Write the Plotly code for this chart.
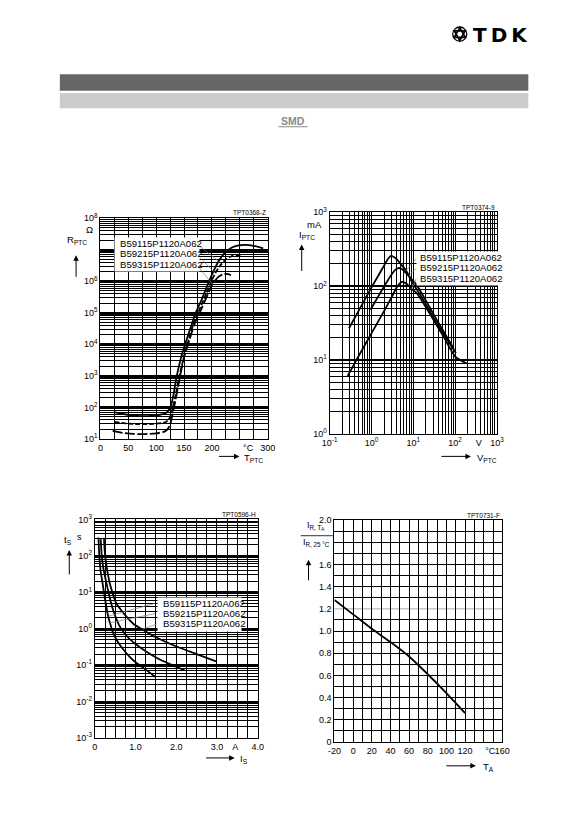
import math

import plotly.graph_objects as go

W, H = 583, 826
FONT = "Liberation Sans, Arial, sans-serif"

part_names = ["B59115P1120A062", "B59215P1120A062", "B59315P1120A062"]

# chart 1: resistance vs temperature
rt_temp_115 = [25, 40, 55, 75, 95, 110, 118, 123, 127, 131, 137, 145, 152, 162, 171, 183, 195, 205, 212, 222, 235, 248, 260, 275, 292]
rt_res_115 = [71, 62, 56, 53, 55, 60, 68, 85, 120, 250, 1000, 4000, 1.0e4, 3.5e4, 1e5, 3e5, 1e6, 2.5e6, 4.3e6,
              7.5e6, 1.15e7, 1.38e7, 1.43e7, 1.33e7, 1.1e7]
rt_temp_215 = [25, 45, 70, 95, 110, 117, 122, 126, 130, 134, 140, 148, 156, 166, 175, 187, 199, 206, 215, 225, 235, 245, 253]
rt_res_215 = [35, 31, 29.5, 30, 32, 34, 40, 55, 100, 200, 700, 3000, 1e4, 4e4, 1e5, 3e5, 1e6, 1.8e6, 3.2e6, 5e6,
              6.2e6, 6.7e6, 6.5e6]
rt_temp_315 = [22, 40, 60, 80, 100, 112, 118, 123, 127, 131, 135, 142, 150, 158, 168, 178, 190, 201, 212, 222, 229, 234]
rt_res_315 = [18, 15.5, 14.4, 14.3, 15, 16.5, 18.5, 24, 38, 80, 180, 800, 4000, 1.1e4, 4e4, 1e5, 3e5, 8e5, 1.4e6,
              1.7e6, 1.68e6, 1.55e6]

# chart 2: current vs voltage
iv_volt_115 = [0.29, 0.5, 1, 1.5, 2, 2.5, 2.86, 3.3, 4, 5, 6.7, 8.5, 11.9, 20, 40, 93]
iv_curr_115 = [27, 47, 96, 143, 190, 235, 256, 252, 232, 200, 163, 130, 105, 64, 32, 14.3]
iv_volt_215 = [0.95, 1.5, 2, 3, 3.7, 4.4, 5.2, 6.2, 7.7, 9.5, 11.9, 20, 40, 105]
iv_curr_215 = [48, 75, 99, 143, 166, 176, 172, 158, 138, 112, 92, 57, 29, 12.5]
iv_volt_315 = [0.27, 0.5, 1, 2, 3, 4, 4.8, 5.5, 6.5, 7.8, 9.1, 11.9, 20, 50, 101.6, 190]
iv_curr_315 = [6.1, 11.5, 23, 46, 70, 96, 110, 114, 110, 101, 92, 81.5, 52, 22, 11.1, 9.0]

# chart 3: switching time vs switching current
ts_curr_115 = [0.224, 0.25, 0.29, 0.368, 0.45, 0.526, 0.65, 0.765, 0.95, 1.164, 1.5, 1.96, 2.5, 2.98]
ts_time_115 = [288, 110, 50, 17.5, 8.5, 5.0, 3.2, 2.2, 1.35, 0.96, 0.58, 0.34, 0.2, 0.126]
ts_curr_215 = [0.143, 0.17, 0.21, 0.287, 0.36, 0.447, 0.607, 0.8, 1.0, 1.25, 1.56, 1.9, 2.2]
ts_time_215 = [288, 100, 45, 17.5, 7.5, 3.3, 1.18, 0.6, 0.38, 0.24, 0.149, 0.1, 0.072]
ts_curr_315 = [0.088, 0.11, 0.14, 0.19, 0.25, 0.327, 0.37, 0.447, 0.55, 0.686, 0.85, 1.0, 1.25, 1.48]
ts_time_315 = [320, 100, 40, 17.5, 6.5, 2.2, 1.45, 0.78, 0.46, 0.28, 0.17, 0.12, 0.075, 0.048]

# chart 4: derating
ta_temp = [-20, 0, 20, 40, 60, 80, 100, 120]
ta_ratio = [1.28, 1.15, 1.02, 0.90, 0.77, 0.61, 0.44, 0.26]


def fx(px):
    return px / W


def fy(py):
    return 1 - py / H


def decades(lo, hi):
    return [10.0 ** d for d in range(lo, hi + 1)]


def log_minor(lo, hi, digits=range(2, 10)):
    return [k * 10.0 ** d for d in range(lo, hi) for k in digits]


def sup(d):
    return f"10<sup>{d}</sup>"


def frame(**kw):
    base = dict(showline=True, mirror=True, linecolor="black", linewidth=1.3, ticks="",
                zeroline=False, tickangle=0, fixedrange=True, tickmode="array",
                tickfont=dict(family=FONT, size=9, color="black"))
    base.update(kw)
    return base


def grid(vals, width=0.8):
    return dict(tickmode="array", tickvals=vals, showgrid=True, gridcolor="black", gridwidth=width, ticks="")


fig = go.Figure()


def curve(x, y, xa, ya, dash="solid", width=1.8):
    fig.add_trace(go.Scatter(
        x=x, y=y, mode="lines", xaxis=xa, yaxis=ya, hoverinfo="skip", showlegend=False,
        line=dict(color="black", width=width, dash=dash, shape="spline", smoothing=0.6),
    ))


def leader(xa, ya, x_label, y_label, x_curve, y_curve):
    fig.add_trace(go.Scatter(
        x=[x_label, x_curve], y=[y_label, y_curve], mode="lines", xaxis=xa, yaxis=ya,
        hoverinfo="skip", showlegend=False, line=dict(color="#808080", width=0.7),
    ))


# chart 1
curve(rt_temp_115, rt_res_115, "x", "y")
curve(rt_temp_215, rt_res_215, "x", "y", dash="5px,2px")
curve(rt_temp_315, rt_res_315, "x", "y", dash="10px,2.5px")
leader("x", "y", 172, 1.57e7, 212, rt_res_115[rt_temp_115.index(212)])
leader("x", "y", 172, 7.4e6, 206, rt_res_215[rt_temp_215.index(206)])
leader("x", "y", 172, 3.47e6, 201, rt_res_315[rt_temp_315.index(201)])

# chart 2
curve(iv_volt_115, iv_curr_115, "x2", "y2")
curve(iv_volt_215, iv_curr_215, "x2", "y2")
curve(iv_volt_315, iv_curr_315, "x2", "y2")
leader("x2", "y2", 11.9, 238, 6.7, iv_curr_115[iv_volt_115.index(6.7)])
leader("x2", "y2", 11.9, 175, 7.7, iv_curr_215[iv_volt_215.index(7.7)])
leader("x2", "y2", 11.9, 127, 9.1, iv_curr_315[iv_volt_315.index(9.1)])

# chart 3
curve(ts_curr_115, ts_time_115, "x3", "y3")
curve(ts_curr_215, ts_time_215, "x3", "y3")
curve(ts_curr_315, ts_time_315, "x3", "y3")
leader("x3", "y3", 1.474, 4.95, 0.327, ts_time_315[ts_curr_315.index(0.327)])
leader("x3", "y3", 1.474, 2.58, 0.37, ts_time_315[ts_curr_315.index(0.37)])
leader("x3", "y3", 1.52, 1.34, 1.164, ts_time_115[ts_curr_115.index(1.164)])

# chart 4
curve(ta_temp, ta_ratio, "x4", "y4", width=1.8)

fig.update_layout(
    width=W, height=H, margin=dict(l=0, r=0, t=0, b=0),
    paper_bgcolor="white", plot_bgcolor="white", showlegend=False,
    font=dict(family=FONT, size=9, color="black"),
    xaxis=frame(domain=[fx(95), fx(267)], range=[0, 300], anchor="y", showgrid=False,
                tickvals=[0, 50, 100, 150, 200, 265, 300],
                ticktext=["0", "50", "100", "150", "200", "°C", "300"],
                minor=grid(list(range(0, 301, 25)))),
    yaxis=frame(domain=[fy(438.3), fy(214.3)], type="log", range=[1, 8], anchor="x",
                tickvals=decades(1, 8),
                ticktext=[sup(1), sup(2), sup(3), sup(4), sup(5), sup(6), "", sup(8)],
                showgrid=True, gridcolor="black", gridwidth=2,
                minor=grid(log_minor(1, 8))),
    xaxis2=frame(domain=[fx(330.7), fx(502.7)], type="log", range=[-1, 3], anchor="y2", showgrid=False,
                 tickvals=[0.1, 1, 10, 100, 367, 1000],
                 ticktext=[sup(-1), sup(0), sup(1), sup(2), "V", sup(3)],
                 minor=grid(log_minor(-1, 3, range(1, 10)) + [1000])),
    yaxis2=frame(domain=[fy(433.3), fy(208.3)], type="log", range=[0, 3], anchor="x2",
                 tickvals=decades(0, 3), ticktext=[sup(0), sup(1), sup(2), sup(3)],
                 showgrid=True, gridcolor="black", gridwidth=1.6,
                 minor=grid(log_minor(0, 3))),
    xaxis3=frame(domain=[fx(89.3), fx(256.7)], range=[0, 4], anchor="y3", showgrid=False,
                 tickvals=[0, 1, 2, 3, 3.45, 4], ticktext=["0", "1.0", "2.0", "3.0", "A", "4.0"],
                 minor=grid([i * 0.25 for i in range(17)])),
    yaxis3=frame(domain=[fy(741.7), fy(520)], type="log", range=[-3, 3], anchor="x3",
                 tickvals=decades(-3, 3), ticktext=[sup(d) for d in range(-3, 4)],
                 showgrid=True, gridcolor="black", gridwidth=2.2,
                 minor=grid(log_minor(-3, 3))),
    xaxis4=frame(domain=[fx(335.7), fx(508.3)], range=[-20, 160], anchor="y4", showgrid=False,
                 tickvals=[-20, 0, 20, 40, 60, 80, 100, 120, 147, 160],
                 ticktext=["-20", "0", "20", "40", "60", "80", "100", "120", "°C", "160"],
                 minor=grid(list(range(-20, 161, 10)), 1)),
    yaxis4=frame(domain=[fy(745.7), fy(520.7)], range=[0, 2], anchor="x4", showgrid=False,
                 tickvals=[0, 0.2, 0.4, 0.6, 0.8, 1.0, 1.2, 1.4, 1.6, 2.0],
                 ticktext=["0", "0.2", "0.4", "0.6", "0.8", "1.0", "1.2", "1.4", "1.6", "2.0"],
                 minor=grid([round(i * 0.1, 1) for i in range(21) if i != 12], 1)),
)

# lighter line at 1.2 in the derating chart
fig.add_shape(type="line", xref="x4 domain", x0=0, x1=1, yref="y4", y0=1.2, y1=1.2,
              line=dict(color="#9a9a9a", width=0.8), layer="below")

# header bars and logo
fig.add_shape(type="rect", xref="paper", yref="paper", x0=fx(53.3), x1=fx(535), y0=fy(85), y1=fy(68.3),
              fillcolor="#666666", line=dict(width=0))
fig.add_shape(type="rect", xref="paper", yref="paper", x0=fx(53.3), x1=fx(535), y0=fy(102.7), y1=fy(87.3),
              fillcolor="#cccccc", line=dict(width=0))
fig.add_shape(type="line", xref="paper", yref="paper", x0=fx(278), x1=fx(308), y0=fy(121.5), y1=fy(121.5),
              line=dict(color="#8a8a8a", width=1))

cx, cy, rad = 464.5, 27.5, 6.5
for angles in ((-90, 30, 150), (90, 210, 330)):
    pts = [(cx + rad * math.cos(math.radians(a)), cy + rad * math.sin(math.radians(a))) for a in angles]
    path = "M " + " L ".join(f"{fx(px):.5f},{fy(py):.5f}" for px, py in pts) + " Z"
    fig.add_shape(type="path", xref="paper", yref="paper", path=path, line=dict(color="black", width=1.7))
fig.add_shape(type="circle", xref="paper", yref="paper", x0=fx(cx - rad - 0.7), x1=fx(cx + rad + 0.7),
              y0=fy(cy + rad + 0.7), y1=fy(cy - rad - 0.7), line=dict(color="black", width=1.3))


def note(px, py, text, size=9.5, xanchor="center", color="black", family=FONT):
    fig.add_annotation(x=fx(px), y=fy(py), xref="paper", yref="paper", text=text, showarrow=False,
                       xanchor=xanchor, yanchor="middle", font=dict(family=family, size=size, color=color))


def blank_box(x0, y0, x1, y1):
    fig.add_annotation(x=fx(x0), y=fy(y0), xref="paper", yref="paper", text=" ", showarrow=False,
                       xanchor="left", yanchor="top", width=x1 - x0, height=y1 - y0, borderpad=0,
                       bgcolor="white", font=dict(size=2))


def arrow(px, py, ax, ay):
    fig.add_annotation(x=fx(px), y=fy(py), xref="paper", yref="paper", text="", showarrow=True,
                       ax=ax, ay=ay, arrowhead=2, arrowsize=1.1, arrowwidth=1, arrowcolor="black")


note(537, 28, "<b>T\u2009D\u2009K</b>", size=20, xanchor="right", family="DejaVu Sans, Liberation Sans, sans-serif")
note(293, 115.5, "<b>SMD</b>", size=10.5, color="#8a8a8a")

# chart ids
note(267, 209, "TPT0368-Z", size=6.5, xanchor="right")
note(502.7, 203, "TPT0374-9", size=6.5, xanchor="right")
note(256.7, 515, "TPT0596-H", size=6.5, xanchor="right")
note(508.3, 515.5, "TPT0731-F", size=6.5, xanchor="right")

# legends on white boxes
blank_box(109, 233.5, 193, 266.5)
blank_box(419.5, 248, 502, 281)
blank_box(153.5, 599, 236, 632)
for i, name in enumerate(part_names):
    note(113, 240 + 10.5 * i, name, size=9.6, xanchor="left")
    note(422, 254 + 10.6 * i, name, size=9.6, xanchor="left")
    note(157, 605 + 10.5 * i, name, size=9.6, xanchor="left")

# axis names, units and arrows
note(71, 236, "R<sub>PTC</sub>", size=9.5)
note(84, 226, "Ω", size=9.5)
arrow(70, 252, 0, 23)
note(241, 458, "T<sub>PTC</sub>", size=9.5, xanchor="left")
arrow(238, 456, -22, 0)

note(307, 231, "I<sub>PTC</sub>", size=9.5)
note(315, 221, "mA", size=9.5)
arrow(302, 241, 0, 28)
note(480, 458, "V<sub>PTC</sub>", size=9.5, xanchor="left")
arrow(476, 456, -31, 0)

note(62, 541, "t<sub>S</sub>", size=9.5)
note(74, 538, "s", size=9)
arrow(63, 551, 0, 26)
note(237, 763, "I<sub>S</sub>", size=9.5, xanchor="left")
arrow(233, 762, -30, 0)

note(316, 527, "I<sub>R, T<sub>A</sub></sub>", size=9)
fig.add_shape(type="line", xref="paper", yref="paper", x0=fx(301), x1=fx(334), y0=fy(536.5), y1=fy(536.5),
              line=dict(color="black", width=0.8))
note(317, 543.5, "I<sub>R, 25 °C</sub>", size=9)
arrow(309, 561, 0, 22)
note(486, 771, "T<sub>A</sub>", size=9.5, xanchor="left")
arrow(481, 770, -31, 0)

# the page is exactly the figure: no default body margin round it
fig.write_html("out.html", config={"displayModeBar": False},
               post_script="document.body.style.margin='0';")
